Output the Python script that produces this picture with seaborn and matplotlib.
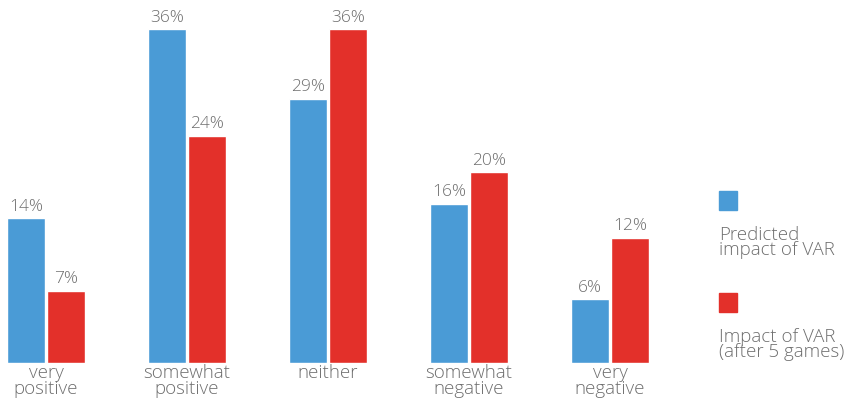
import pandas as pd
import seaborn as sns
import matplotlib.pyplot as plt
from matplotlib.patches import Rectangle

categories = ["very\npositive", "somewhat\npositive", "neither", "somewhat\nnegative", "very\nnegative"]
series = ["Predicted\nimpact of VAR", "Impact of VAR\n(after 5 games)"]
predicted = [15.6, 36.0, 28.5, 17.2, 6.9]
after_games = [7.8, 24.5, 36.0, 20.6, 13.5]
predicted_labels = ["14%", "36%", "29%", "16%", "6%"]
after_labels = ["7%", "24%", "36%", "20%", "12%"]

colors = ["#4a9bd6", "#e3302a"]
text_gray = "#6e6e6e"

data = pd.DataFrame({
    "category": categories * 2,
    "series": [series[0]] * 5 + [series[1]] * 5,
    "value": predicted + after_games,
})

sns.set_style("white")
plt.rcParams["font.family"] = ["Open Sans", "DejaVu Sans"]

fig = plt.figure(figsize=(8.49, 4.05), dpi=100)
ax = fig.add_axes([0, 42 / 405, 660 / 849, 361.5 / 405])

sns.barplot(data=data, x="category", y="value", hue="series", palette=colors,
            width=0.567, gap=0.05, saturation=1, legend=False, ax=ax)

# value labels above bars
for container, labels in zip(ax.containers, [predicted_labels, after_labels]):
    ax.bar_label(container, labels=labels, padding=2.5, color=text_gray,
                 fontsize=12.5, fontweight="light")

ax.set_xlim(-46 / 141, 614 / 141)
ax.set_ylim(0, 39)
ax.set_xlabel("")
ax.set_ylabel("")
ax.set_yticks([])
ax.tick_params(axis="x", length=0, pad=1)
for lbl in ax.get_xticklabels():
    lbl.set_color(text_gray)
    lbl.set_fontsize(13.5)
    lbl.set_fontweight("light")
    lbl.set_linespacing(0.85)
sns.despine(ax=ax, left=True, bottom=True)

# legend: square above each label
for i, (name, col) in enumerate(zip(series, colors)):
    top = 191 + i * 102
    fig.patches.append(Rectangle((719 / 849, 1 - (top + 19) / 405), 18 / 849, 19 / 405,
                                 transform=fig.transFigure, color=col))
    fig.text(719 / 849, 1 - (top + 35) / 405, name, ha="left", va="top",
             color=text_gray, fontsize=13.5, fontweight="light", linespacing=0.8)

fig.savefig("out.png", dpi=100)
